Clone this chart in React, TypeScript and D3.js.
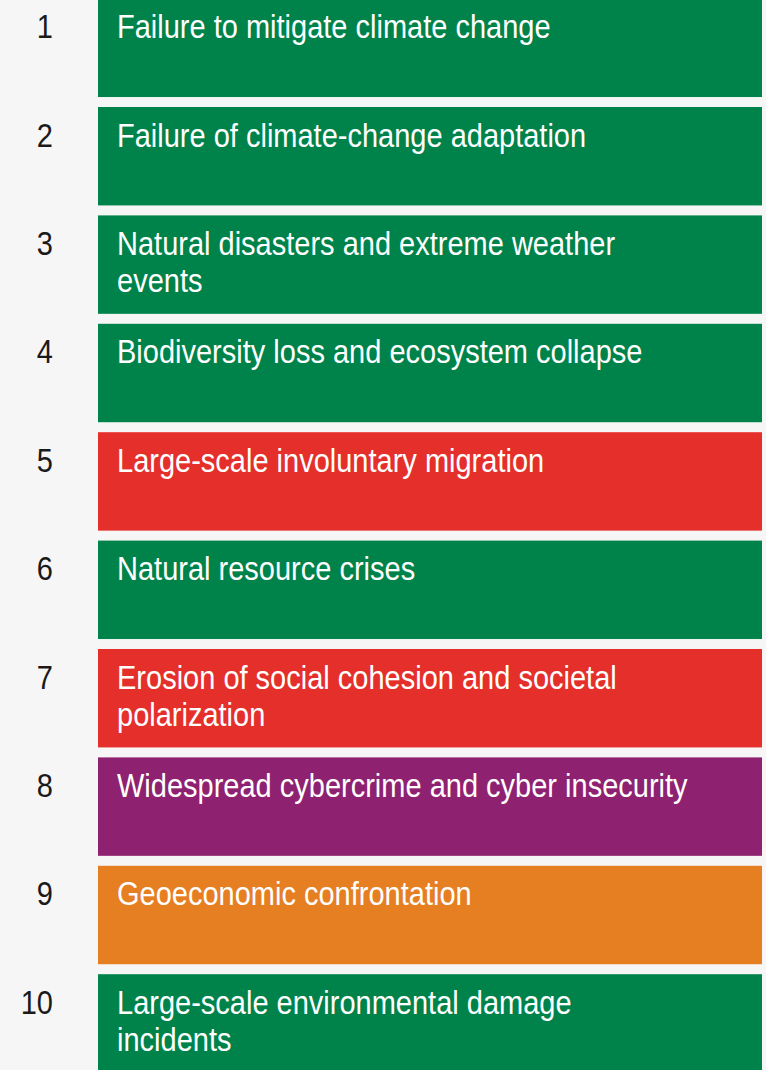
import React from "react";
import * as d3 from "d3";

const ranks = [1, 2, 3, 4, 5, 6, 7, 8, 9, 10];
const riskLines: string[][] = [
  ["Failure to mitigate climate change"],
  ["Failure of climate-change adaptation"],
  ["Natural disasters and extreme weather", "events"],
  ["Biodiversity loss and ecosystem collapse"],
  ["Large-scale involuntary migration"],
  ["Natural resource crises"],
  ["Erosion of social cohesion and societal", "polarization"],
  ["Widespread cybercrime and cyber insecurity"],
  ["Geoeconomic confrontation"],
  ["Large-scale environmental damage", "incidents"],
];
const categories = [
  "Environmental",
  "Environmental",
  "Environmental",
  "Environmental",
  "Societal",
  "Environmental",
  "Societal",
  "Technological",
  "Geopolitical",
  "Environmental",
];
const categoryNames = ["Environmental", "Societal", "Technological", "Geopolitical"];
const categoryColors = ["#00834a", "#e52f2b", "#8e2270", "#e67e22"];

const W = 766;
const H = 1070;

export default function App() {
  const step = 108.4;
  const y0 = -1.4 - 0.046 * step;
  const y = d3
    .scaleBand<number>()
    .domain(ranks)
    .range([y0, y0 + ranks.length * step])
    .paddingInner(0.092)
    .paddingOuter(0.046);
  const color = d3.scaleOrdinal<string, string>().domain(categoryNames).range(categoryColors);
  const boxX = 98;
  const boxW = 664;
  const fontFamily = "'Liberation Sans', Arial, Helvetica, sans-serif";
  const fs = 29;
  const sy = 1.15;

  return (
    <svg
      width={W}
      height={H}
      style={{ position: "absolute", left: 0, top: 0, display: "block" }}
    >
      <rect x={0} y={0} width={W} height={H} fill="#f6f6f6" />
      {ranks.map((r, i) => {
        const top = y(r)!;
        const baseline = top + 39.5;
        return (
          <g key={r}>
            <rect
              x={boxX}
              y={top}
              width={boxW}
              height={y.bandwidth()}
              fill={color(categories[i])}
            />
            <text
              transform={`translate(53,${baseline}) scale(1,${sy})`}
              textAnchor="end"
              fontFamily={fontFamily}
              fontSize={fs}
              fill="#1a1a1a"
            >
              {r}
            </text>
            {riskLines[i].map((line, j) => (
              <text
                key={j}
                transform={`translate(117,${baseline + j * 37.5}) scale(1,${sy})`}
                fontFamily={fontFamily}
                fontSize={fs}
                fill="#ffffff"
              >
                {line}
              </text>
            ))}
          </g>
        );
      })}
    </svg>
  );
}
